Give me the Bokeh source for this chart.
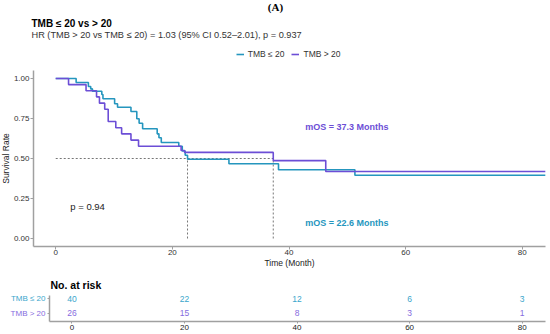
from bokeh.plotting import figure
from bokeh.models import Range1d, Legend, LegendItem, FixedTicker, PrintfTickFormatter, ColumnDataSource, Title
from bokeh.layouts import column, row
from bokeh.core.properties import value
from bokeh.embed import file_html
from bokeh.resources import INLINE

# ---------------- data ----------------
t_low = [0, 3.5, 5.6, 6.0, 6.3, 7.9, 8.1, 10.1, 10.6, 12.9, 13.9, 14.3, 14.9, 17.4, 17.7, 18.1,
         21.1, 21.7, 22.2, 22.6, 29.7, 38.2, 51.3]
s_low = [1.0, 0.975, 0.95, 0.935, 0.92, 0.9, 0.873, 0.842, 0.82, 0.794, 0.748, 0.72, 0.686, 0.654,
         0.63, 0.6, 0.577, 0.547, 0.52, 0.495, 0.467, 0.43, 0.395]
t_high = [0, 2.2, 5.2, 7.0, 7.5, 8.4, 9.0, 10.3, 11.3, 12.9, 14.2, 21.5, 22.1, 37.3, 46.3]
s_high = [1.0, 0.962, 0.923, 0.885, 0.846, 0.808, 0.731, 0.692, 0.654, 0.615, 0.577, 0.55, 0.538,
          0.487, 0.419]
follow_end = 84
med_low = 22.6
med_high = 37.3

risk_times = [0, 20, 40, 60, 80]
risk_low = [40, 22, 12, 6, 3]
risk_high = [26, 15, 8, 3, 1]
risk_rows = [2, 1]

x_ticks = [0, 20, 40, 60, 80]
y_ticks = [0, 0.25, 0.5, 0.75, 1.0]

name_low = "TMB \u2264 20"
name_high = "TMB > 20"
panel_tag = "(A)"
title_text = "TMB \u2264 20 vs > 20"
subtitle_text = "HR (TMB > 20 vs TMB \u2264 20) = 1.03 (95% CI 0.52\u20132.01), p = 0.937"
p_text = "p = 0.94"
ylab_text = "Survival Rate"

C_LOW = "#2596BE"
C_HIGH = "#6C4ED6"
C_LOW_T = "#3AA6CC"
C_HIGH_T = "#866CE0"
AX = "#A0A0A0"
FONT = "Liberation Sans"
W = 548


def bare(fig):
    fig.outline_line_color = None
    fig.xgrid.visible = False
    fig.ygrid.visible = False
    fig.background_fill_color = "white"
    fig.border_fill_color = "white"


# ---------------- header (titles + legend) ----------------
h = figure(width=W, height=70, x_range=Range1d(0, W), y_range=Range1d(70, 0),
           x_axis_type=None, y_axis_type=None, output_backend="svg", toolbar_location=None,
           title=None, min_border=0)
bare(h)
h.text(x=[275], y=[6], text=[panel_tag], text_font=value("Liberation Serif"), text_font_style="bold",
       text_font_size="11px", text_color="#000000", text_align="center", text_baseline="middle")
h.text(x=[31], y=[22.5], text=[title_text], text_font=value(FONT), text_font_style="bold",
       text_font_size="10px", text_color="#000000", text_align="left", text_baseline="middle")
h.text(x=[31], y=[34.5], text=[subtitle_text], text_font=value(FONT),
       text_font_size="9.2px", text_color="#333333", text_align="left", text_baseline="middle")
d_low = h.line(x=[-50, -40], y=[-50, -50], line_color=C_LOW, line_width=1.6)
d_high = h.line(x=[-50, -40], y=[-50, -50], line_color=C_HIGH, line_width=1.6)
legend = Legend(items=[LegendItem(label=name_low, renderers=[d_low]),
                       LegendItem(label=name_high, renderers=[d_high])],
                orientation="horizontal", location=(235.7, 10.7),
                padding=0, margin=0, spacing=7, label_standoff=4,
                glyph_width=8, glyph_height=10, label_height=10,
                label_text_font=FONT, label_text_font_size="8.5px", label_text_color="#333333",
                border_line_color=None, background_fill_alpha=0)
h.add_layout(legend)

# ---------------- main plot ----------------
y_main = Range1d(-0.05, 1.05)
p = figure(width=W - 10, height=200, x_range=Range1d(-3.81, 83.98), y_range=y_main,
           output_backend="svg", toolbar_location=None, title=None,
           min_border_left=21, min_border_right=3, min_border_top=0, min_border_bottom=24)
bare(p)
for ax in (p.xaxis[0], p.yaxis[0]):
    ax.axis_line_color = AX
    ax.axis_line_width = 1.5
    ax.major_tick_line_color = AX
    ax.major_tick_out = 3
    ax.major_tick_in = 0
    ax.minor_tick_line_color = None
    ax.major_label_text_font = FONT
    ax.major_label_text_font_size = "8px"
    ax.major_label_text_color = "#333333"
    ax.axis_label_text_font = FONT
    ax.axis_label_text_font_size = "8.5px"
    ax.axis_label_text_font_style = "normal"
    ax.axis_label_text_color = "#222222"
    ax.axis_label_standoff = 0
p.xaxis.ticker = FixedTicker(ticks=x_ticks)
p.yaxis.ticker = FixedTicker(ticks=y_ticks)
p.yaxis.formatter = PrintfTickFormatter(format="%.2f")
p.xaxis.major_label_standoff = 0
p.yaxis.major_label_standoff = 1
p.xaxis.axis_label = "Time (Month)"

# median guide lines
p.line([0, med_high], [0.5, 0.5], line_color="#777777", line_dash="2 2", line_width=1)
p.line([med_low, med_low], [0, 0.5], line_color="#777777", line_dash="2 2", line_width=1)
p.line([med_high, med_high], [0, 0.5], line_color="#777777", line_dash="2 2", line_width=1)

p.step(t_low + [follow_end], s_low + [s_low[-1]], mode="after", line_color=C_LOW, line_width=1.6)
p.step(t_high + [follow_end], s_high + [s_high[-1]], mode="after", line_color=C_HIGH, line_width=1.6)

p.text(x=[2.5], y=[0.2], text=[p_text], text_font=value(FONT), text_font_size="9.5px",
       text_color="#222222", text_align="left", text_baseline="middle")
p.text(x=[42.8, 42.8], y=[0.696, 0.096],
       text=["mOS = %.1f Months" % med_high, "mOS = %.1f Months" % med_low],
       text_font=value(FONT), text_font_style="bold", text_font_size="9px",
       text_color=[C_HIGH, C_LOW], text_align="left", text_baseline="middle")

# ---------------- y label strip (shares the main y scale) ----------------
yl = figure(width=10, height=200, x_range=Range1d(0, 10), y_range=y_main,
            x_axis_type=None, y_axis_type=None, output_backend="svg", toolbar_location=None,
            title=None, min_border=0)
bare(yl)
yl.text(x=[5.5], y=[0.5], text=[ylab_text], angle=1.5708, text_font=value(FONT),
        text_font_size="8.5px", text_color="#222222", text_align="center", text_baseline="middle")

# ---------------- risk table ----------------
y_risk = Range1d(0.424, 2.229)
q = figure(width=W - 47, height=64, x_range=Range1d(-3.98, 84.14), y_range=y_risk,
           output_backend="svg", toolbar_location=None,
           min_border_left=2, min_border_right=3, min_border_top=25, min_border_bottom=13)
q.title = Title(text="No. at risk", align="left", offset=1, standoff=10,
                text_font=FONT, text_font_size="10.5px", text_font_style="bold", text_color="#000000")
bare(q)
for ax in (q.xaxis[0], q.yaxis[0]):
    ax.axis_line_color = AX
    ax.axis_line_width = 1.5
    ax.major_tick_line_color = AX
    ax.major_tick_out = 2
    ax.major_tick_in = 0
    ax.minor_tick_line_color = None
    ax.major_label_text_font = FONT
    ax.major_label_text_font_size = "8px"
    ax.major_label_text_color = "#222222"
q.xaxis.ticker = FixedTicker(ticks=x_ticks)
q.yaxis.ticker = FixedTicker(ticks=risk_rows)
q.yaxis.major_label_overrides = {1: "", 2: ""}
q.yaxis.major_label_standoff = 0
q.xaxis.major_label_standoff = 1

src = ColumnDataSource(dict(t=risk_times + risk_times,
                            y=[risk_rows[0]] * len(risk_times) + [risk_rows[1]] * len(risk_times),
                            n=[str(v) for v in risk_low] + [str(v) for v in risk_high],
                            c=[C_LOW_T] * len(risk_times) + [C_HIGH_T] * len(risk_times)))
q.text(x="t", y="y", text="n", source=src, text_color="c", text_font=value(FONT),
       text_font_size="8.5px", text_align="center", text_baseline="middle")

lf = figure(width=47, height=64, x_range=Range1d(0, 47), y_range=y_risk,
            x_axis_type=None, y_axis_type=None, output_backend="svg", toolbar_location=None,
            title=None, min_border=0)
bare(lf)
lf.text(x=[45, 45], y=risk_rows, text=[name_low, name_high], text_font=value(FONT),
        text_font_size="8px", text_color=[C_LOW_T, C_HIGH_T], text_align="right",
        text_baseline="middle")

layout = column(h, row(yl, p, spacing=0), row(lf, q, spacing=0), spacing=0)
open("out.html", "w").write(file_html(layout, INLINE))
